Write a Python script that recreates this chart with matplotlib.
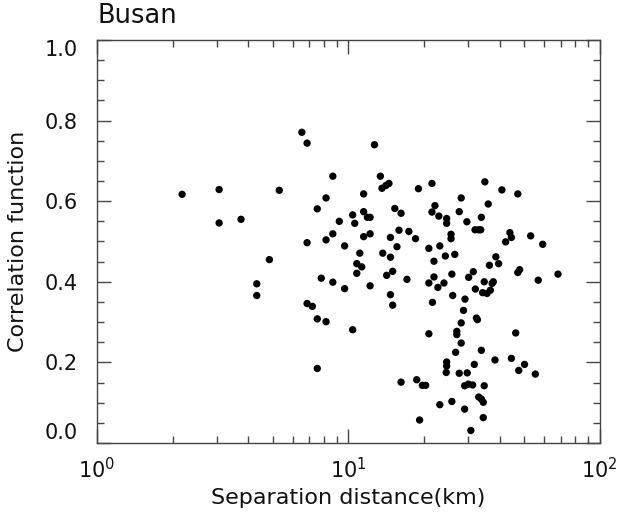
import numpy as np
import matplotlib
matplotlib.use("Agg")
import matplotlib.pyplot as plt
from matplotlib.ticker import LogLocator, MultipleLocator

# Separation distance (km) and correlation
distance = [2.18, 3.06, 3.06, 3.74, 4.32, 4.32, 4.85, 5.31, 6.53, 6.85,
            6.85, 6.85, 7.19, 7.52, 7.52, 7.52, 7.80, 8.15, 8.15, 8.15,
            8.67, 8.67, 8.67, 9.20, 9.66, 9.66, 10.4, 10.4, 10.6, 10.8,
            10.8, 11.1, 11.3, 11.5, 11.5, 11.5, 11.9, 12.2, 12.2, 12.2,
            12.7, 13.4, 13.6, 14.1, 14.5, 13.7, 14.2, 14.7, 14.7, 14.7,
            15.0, 15.0, 15.3, 15.6, 15.9, 16.2, 16.2, 17.1, 17.4, 18.5,
            18.7, 19.0, 19.2, 19.7, 20.3, 20.9, 20.9, 20.9, 21.5, 21.5,
            21.6, 21.9, 21.9, 22.1, 22.7, 22.9, 23.1, 23.1, 24.0, 24.3,
            24.5, 24.6, 24.6, 24.6, 24.6, 25.6, 25.6, 25.8, 25.8, 26.0,
            26.5, 26.7, 27.0, 27.0, 27.6, 27.6, 28.1, 28.1, 28.1, 28.7,
            29.1, 29.0, 29.0, 29.6, 29.7, 30.1, 30.0, 30.7, 31.2, 31.4,
            31.7, 31.9, 32.0, 32.3, 32.6, 33.0, 33.6, 33.8, 33.8, 33.0,
            33.8, 34.2, 34.4, 34.4, 34.7, 34.7, 34.9, 35.6, 36.0, 36.4,
            36.7, 37.3, 37.7, 38.3, 38.6, 39.6, 40.8, 42.2, 43.9, 44.5,
            44.5, 46.3, 47.2, 47.2, 48.0, 47.6, 50.2, 53.1, 55.4, 56.9,
            59.3, 68.2]
correlation = [0.617, 0.629, 0.546, 0.555, 0.395, 0.366, 0.455, 0.627, 0.771, 0.744,
               0.497, 0.346, 0.339, 0.581, 0.308, 0.185, 0.409, 0.608, 0.504, 0.301,
               0.662, 0.519, 0.399, 0.550, 0.489, 0.383, 0.566, 0.281, 0.545, 0.421,
               0.445, 0.471, 0.437, 0.574, 0.512, 0.618, 0.560, 0.560, 0.519, 0.390,
               0.740, 0.662, 0.632, 0.639, 0.644, 0.471, 0.416, 0.510, 0.461, 0.368,
               0.342, 0.426, 0.582, 0.487, 0.528, 0.570, 0.151, 0.406, 0.525, 0.507,
               0.157, 0.631, 0.057, 0.143, 0.143, 0.483, 0.397, 0.271, 0.644, 0.573,
               0.349, 0.451, 0.412, 0.589, 0.386, 0.563, 0.489, 0.095, 0.397, 0.464,
               0.175, 0.201, 0.191, 0.557, 0.545, 0.518, 0.507, 0.419, 0.103, 0.366,
               0.468, 0.225, 0.277, 0.269, 0.574, 0.173, 0.608, 0.298, 0.248, 0.329,
               0.357, 0.142, 0.084, 0.549, 0.174, 0.411, 0.146, 0.031, 0.144, 0.425,
               0.195, 0.529, 0.382, 0.310, 0.306, 0.529, 0.529, 0.560, 0.230, 0.114,
               0.109, 0.373, 0.101, 0.063, 0.400, 0.142, 0.648, 0.371, 0.593, 0.441,
               0.379, 0.396, 0.400, 0.206, 0.462, 0.445, 0.628, 0.499, 0.522, 0.510,
               0.210, 0.273, 0.618, 0.423, 0.430, 0.180, 0.195, 0.514, 0.171, 0.404,
               0.493, 0.419]

plt.rcParams['font.family'] = ['DejaVu Sans']
plt.rcParams['mathtext.fontset'] = 'dejavusans'

fig = plt.figure(figsize=(6.32, 5.16), dpi=100)
ax = fig.add_axes([0.1535, 0.1415, 0.7955, 0.781])

ax.scatter(distance, correlation, s=28, color='black', edgecolors='none')

ax.set_xscale('log')
ax.set_xlim(1, 100)
ax.set_ylim(0, 1.0)
ax.xaxis.set_major_locator(LogLocator(base=10))
ax.xaxis.set_minor_locator(LogLocator(base=10, subs=np.arange(2, 10)))
ax.yaxis.set_major_locator(MultipleLocator(0.2))
ax.yaxis.set_minor_locator(MultipleLocator(0.05))
ax.yaxis.set_major_formatter(plt.FuncFormatter(lambda v, p: f"{v:.1f}"))

ax.tick_params(which='both', direction='in', top=True, right=True,
               color='#444444', labelsize=15, labelcolor='#111111')
ax.tick_params(which='major', length=10, width=1)
ax.tick_params(which='minor', length=5, width=1)
ax.tick_params(axis='x', pad=10)
ax.tick_params(axis='y', pad=14)
for s in ax.spines.values():
    s.set_color('#444444')
    s.set_linewidth(1)

ax.set_xlabel('Separation distance(km)', fontsize=16, labelpad=4, color='#111111')
ax.set_ylabel('Correlation function', fontsize=16, labelpad=12, color='#111111')
ax.set_title('Busan', loc='left', fontsize=18.5, pad=12, color='#111111')

# IDL-style: end labels nudged inside the axis range
fig.canvas.draw()
for t in ax.yaxis.get_major_ticks():
    if abs(t.get_loc() - 0.0) < 1e-6:
        t.label1.set_verticalalignment('bottom')
    elif abs(t.get_loc() - 1.0) < 1e-6:
        t.label1.set_verticalalignment('top')

fig.savefig('out.png', dpi=100)
